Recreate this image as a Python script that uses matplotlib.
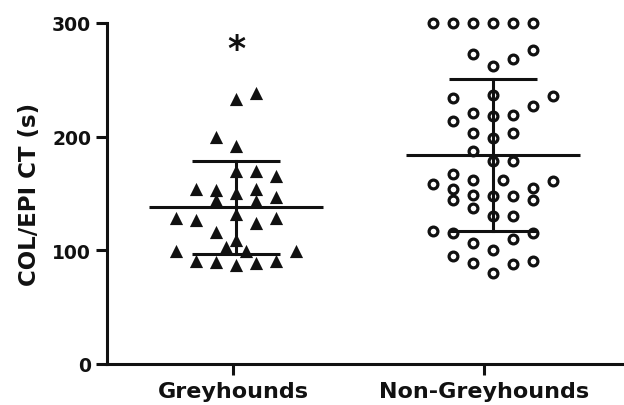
import matplotlib
matplotlib.use('Agg')
import matplotlib.pyplot as plt
import numpy as np

plt.rcParams['font.family'] = ['DejaVu Sans']

categories = ['Greyhounds', 'Non-Greyhounds']

# clotting times (s), with their column slot in the swarm
grey_values = [233, 238, 200, 192, 170, 170, 165, 154, 153, 150,
               154, 144, 143, 147, 132, 128, 127, 124, 128, 116,
               109, 103, 99, 99, 99, 91, 90, 87, 89, 91]
grey_slots = [0, 1, -1, 0, 0, 1, 2, -2, -1, 0,
              1, -1, 1, 2, 0, -3, -2, 1, 2, -1,
              0, -0.5, -3, 0.5, 3, -2, -1, 0, 1, 2]
grey_mean, grey_sd = 138, 41

non_values = [300, 300, 300, 300, 300, 300,
              273, 262, 268, 276, 234, 237, 227, 236,
              214, 221, 218, 219, 203, 199, 203,
              187, 179, 179, 158, 167, 154, 144,
              162, 149, 137, 162, 148, 148, 155, 144, 161,
              130, 130, 117, 115, 115, 106, 110, 100,
              95, 89, 80, 88, 91]
non_slots = [-3, -2, -1, 0, 1, 2,
             -1, 0, 1, 2, -2, 0, 2, 3,
             -2, -1, 0, 1, -1, 0, 1,
             -1, 0, 1, -3, -2, -2, -2,
             -1, -1, -1, 0.5, 0, 1, 2, 2, 3,
             0, 1, -3, -2, 2, -1, 1, 0,
             -2, -1, 0, 1, 2]
non_mean, non_sd = 184, 67

SLOT = 0.08
centers = [0.012, 1.036]

fig = plt.figure(figsize=(6.24, 4.06), dpi=100)
ax = fig.add_axes([0.1715, 0.101, 0.8285, 0.84])

ax.scatter(centers[0] + SLOT * np.array(grey_slots), grey_values,
           marker='^', s=90, color='#111111', linewidths=0, clip_on=False, zorder=3)
ax.scatter(centers[1] + SLOT * np.array(non_slots), non_values,
           marker='o', s=40, facecolors='white', edgecolors='#111111',
           linewidths=2.3, clip_on=False, zorder=3)

for c, m, sd in [(centers[0], grey_mean, grey_sd), (centers[1], non_mean, non_sd)]:
    ax.plot([c - 0.347, c + 0.347], [m, m], color='#111111', lw=2.2, zorder=4,
            solid_capstyle='butt')
    ax.plot([c, c], [m - sd, m + sd], color='#111111', lw=2.2, zorder=4)
    for y in (m - sd, m + sd):
        ax.plot([c - 0.175, c + 0.175], [y, y], color='#111111', lw=2.2, zorder=4,
                solid_capstyle='butt')

ax.text(centers[0], 277, '*', ha='center', va='center', fontsize=25,
        fontweight='bold', color='#111111')

ax.set_xlim(-0.502, 1.558)
ax.set_ylim(0, 300)
ax.set_xticks([0, 1])
ax.set_xticklabels(categories)
ax.set_yticks([0, 100, 200, 300])
for s in ['top', 'right']:
    ax.spines[s].set_visible(False)
for s in ['left', 'bottom']:
    ax.spines[s].set_linewidth(2.2)
    ax.spines[s].set_color('#111111')
ax.tick_params(width=2.2, length=8, color='#111111', labelcolor='#111111')
ax.tick_params(axis='y', labelsize=13.5, pad=3.5)
ax.tick_params(axis='x', labelsize=16, pad=4)
for lab in ax.get_xticklabels() + ax.get_yticklabels():
    lab.set_fontweight('bold')
ax.set_ylabel('COL/EPI CT (s)', fontsize=16.5, fontweight='bold', labelpad=8,
              color='#111111')

fig.savefig('out.png', dpi=100)
